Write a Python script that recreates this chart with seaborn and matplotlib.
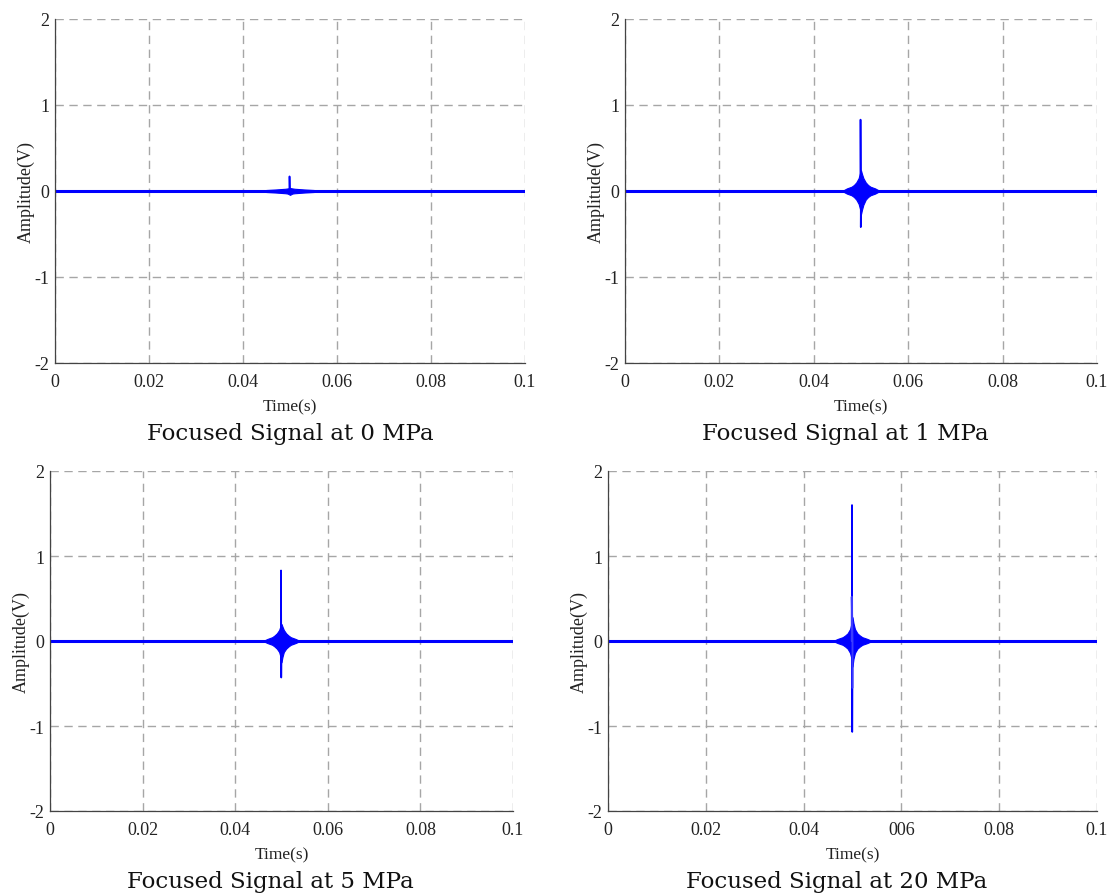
import numpy as np
import pandas as pd
import matplotlib
matplotlib.use("Agg")
import matplotlib.pyplot as plt
import seaborn as sns

# ---------------- data ----------------
titles = ["Focused Signal at 0 MPa", "Focused Signal at 1 MPa",
          "Focused Signal at 5 MPa", "Focused Signal at 20 MPa"]
xtick_vals = [0, 0.02, 0.04, 0.06, 0.08, 0.1]
xtick_labels_std = ["0", "0.02", "0.04", "0.06", "0.08", "0.1"]
xtick_labels_20 = ["0", "0.02", "0.04", "006", "0.08", "0.1"]
ytick_vals = [-2, -1, 0, 1, 2]
ytick_labels = ["-2", "-1", "0", "1", "2"]

# baseline of each record
base_t = [0.0, 0.1]
base_a = [0.0, 0.0]

# burst envelope (time, upper, lower) per panel
env_t_0 = [0.043, 0.045, 0.047, 0.048, 0.049, 0.0495, 0.05, 0.0505, 0.051, 0.052, 0.053, 0.055, 0.057]
env_up_0 = [0.0, 0.012, 0.018, 0.022, 0.026, 0.03, 0.035, 0.03, 0.026, 0.022, 0.018, 0.012, 0.0]
env_lo_0 = [0.0, -0.012, -0.018, -0.022, -0.026, -0.03, -0.045, -0.03, -0.026, -0.022, -0.018, -0.012, 0.0]

env_t_1 = [0.046, 0.047, 0.048, 0.0485, 0.049, 0.0495, 0.0498, 0.05, 0.0502, 0.0505, 0.051, 0.0515, 0.052, 0.053, 0.054]
env_up_1 = [0.0, 0.03, 0.05, 0.07, 0.1, 0.15, 0.21, 0.24, 0.2, 0.15, 0.1, 0.07, 0.05, 0.03, 0.0]
env_lo_1 = [0.0, -0.03, -0.05, -0.07, -0.1, -0.15, -0.21, -0.27, -0.22, -0.16, -0.1, -0.07, -0.05, -0.03, 0.0]

env_t_5 = [0.046, 0.047, 0.048, 0.0485, 0.049, 0.0495, 0.0498, 0.05, 0.0502, 0.0505, 0.051, 0.0515, 0.052, 0.053, 0.054]
env_up_5 = [0.0, 0.025, 0.045, 0.065, 0.09, 0.13, 0.18, 0.2, 0.17, 0.13, 0.09, 0.065, 0.045, 0.025, 0.0]
env_lo_5 = [0.0, -0.025, -0.045, -0.065, -0.09, -0.13, -0.19, -0.25, -0.19, -0.13, -0.09, -0.065, -0.045, -0.025, 0.0]

env_t_20 = [0.046, 0.047, 0.048, 0.0485, 0.049, 0.0495, 0.0498, 0.05, 0.0502, 0.0505, 0.051, 0.0515, 0.052, 0.053, 0.054]
env_up_20 = [0.0, 0.025, 0.045, 0.065, 0.09, 0.14, 0.21, 0.28, 0.21, 0.14, 0.09, 0.065, 0.045, 0.025, 0.0]
env_lo_20 = [0.0, -0.025, -0.045, -0.065, -0.09, -0.14, -0.21, -0.3, -0.21, -0.14, -0.09, -0.065, -0.045, -0.025, 0.0]

# main spikes (time, amplitude) per panel
spk_t_0 = [0.0499, 0.0499, 0.04995, 0.05]
spk_a_0 = [0.0, 0.17, -0.02, 0.0]
spk_t_1 = [0.0499, 0.0499, 0.04995, 0.04995, 0.05]
spk_a_1 = [0.0, 0.83, 0.0, -0.42, 0.0]
spk_t_5 = [0.0499, 0.0499, 0.04995, 0.04995, 0.05]
spk_a_5 = [0.0, 0.83, 0.0, -0.43, 0.0]
spk_t_20 = [0.0499, 0.0499, 0.04995, 0.04995, 0.05]
spk_a_20 = [0.0, 1.6, 0.0, -1.07, 0.0]
# secondary inner spikes for 20 MPa
spk2_t_20 = [0.04985, 0.04985, 0.05, 0.05]
spk2_a_20 = [0.0, 0.52, 0.0, -0.55]

panels = [
    (env_t_0, env_up_0, env_lo_0, spk_t_0, spk_a_0, None, None, xtick_labels_std),
    (env_t_1, env_up_1, env_lo_1, spk_t_1, spk_a_1, None, None, xtick_labels_std),
    (env_t_5, env_up_5, env_lo_5, spk_t_5, spk_a_5, None, None, xtick_labels_std),
    (env_t_20, env_up_20, env_lo_20, spk_t_20, spk_a_20, spk2_t_20, spk2_a_20, xtick_labels_20),
]

# ---------------- style ----------------
sns.set_theme(style="white")
plt.rcParams["font.family"] = ["Liberation Serif", "DejaVu Serif"]
plt.rcParams["axes.unicode_minus"] = False

W, H = 1111, 895
fig = plt.figure(figsize=(W / 100, H / 100), dpi=100)

# axes boxes in pixels: (left, top, right, bottom)
boxes = [(55, 20, 525, 364), (625, 20, 1097, 364),
         (50, 472, 513, 812), (608, 472, 1097, 812)]
title_pos = [(290, 434), (845, 434), (270, 882), (837, 882)]

BLUE = "#0000ff"
for i, (et, eu, el, st, sa, s2t, s2a, xl) in enumerate(panels):
    l, t, r, b = boxes[i]
    ax = fig.add_axes([l / W, 1 - b / H, (r - l) / W, (b - t) / H])
    ax.fill_between(et, el, eu, color=BLUE, linewidth=0.8)
    sns.lineplot(x=base_t, y=base_a, ax=ax, color=BLUE, lw=2.2, sort=False, estimator=None)
    sns.lineplot(x=st, y=sa, ax=ax, color=BLUE, lw=1.2, sort=False, estimator=None)
    if s2t is not None:
        sns.lineplot(x=s2t, y=s2a, ax=ax, color="#3b3bff", lw=1.4, sort=False, estimator=None)
    ax.set_xlim(0, 0.1)
    ax.set_ylim(-2, 2)
    ax.set_xticks(xtick_vals)
    ax.set_xticklabels(xl)
    ax.set_yticks(ytick_vals)
    ax.set_yticklabels(ytick_labels)
    ax.grid(True, linestyle=(0, (6, 4)), color="#a6a6a6", linewidth=1.0)
    ax.set_axisbelow(True)
    for side in ["top", "right"]:
        ax.spines[side].set_visible(False)
    for side in ["left", "bottom"]:
        ax.spines[side].set_color("#444444")
        ax.spines[side].set_linewidth(0.9)
    ax.tick_params(axis="both", direction="in", length=4, width=0.8,
                   labelsize=13, colors="#222222", pad=4)
    ax.tick_params(axis="x", pad=7)
    ax.set_xlabel("Time(s)", fontsize=12.5, labelpad=6, color="#222222")
    ax.set_ylabel("Amplitude(V)", fontsize=13, labelpad=0, color="#222222")
    tx, ty = title_pos[i]
    fig.text(tx / W, 1 - ty / H, titles[i], ha="center", va="center",
             fontsize=16.5, color="#111111", family=["DejaVu Serif"])

fig.savefig("out.png", dpi=100)
